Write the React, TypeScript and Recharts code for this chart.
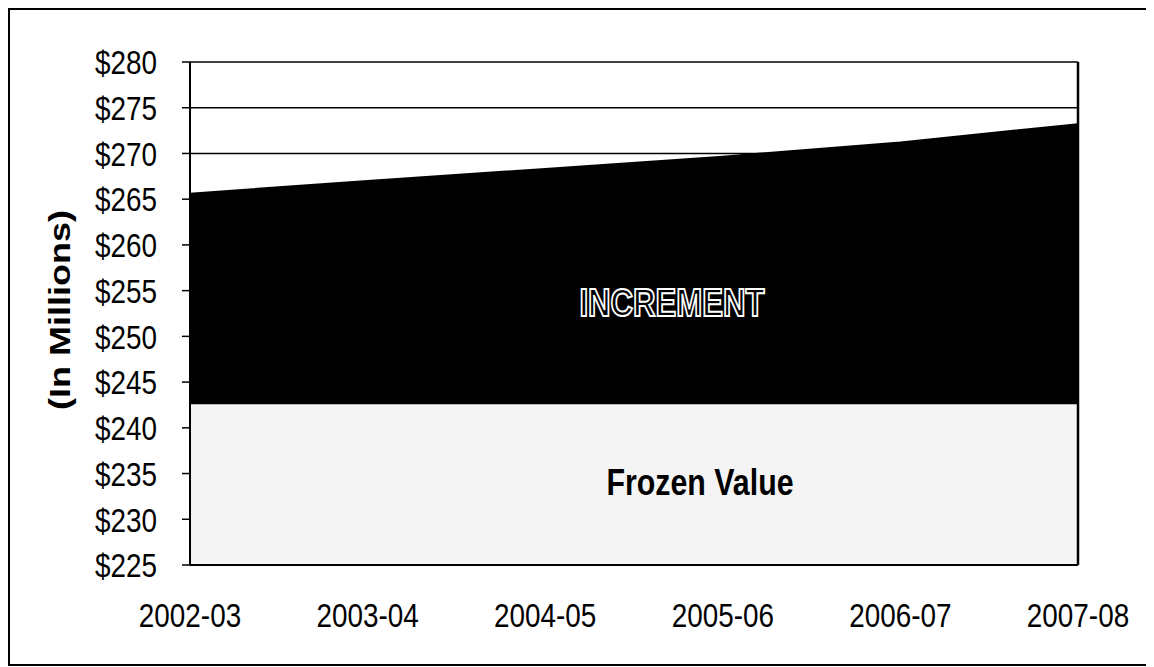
import { Area, AreaChart, CartesianGrid, XAxis, YAxis } from 'recharts';

const years = ['2002-03', '2003-04', '2004-05', '2005-06', '2006-07', '2007-08'];
const frozenValue = [242.7, 242.7, 242.7, 242.7, 242.7, 242.7];
const increment = [22.9, 24.3, 25.6, 26.95, 28.5, 30.5];
const yTicks = [225, 230, 235, 240, 245, 250, 255, 260, 265, 270, 275, 280];

const FONT = '"Liberation Sans", Arial, sans-serif';
const SQUEEZE = 0.82;

const chartData = years.map((year, i) => ({
  year,
  frozen: frozenValue[i],
  increment: increment[i],
}));

function YTick({ x, y, payload }: any) {
  return (
    <text
      transform={`translate(${x},${y}) scale(${SQUEEZE},1)`}
      textAnchor="end"
      dy="0.36em"
      fontSize={34}
      fontFamily={FONT}
      fill="#000"
    >
      ${payload.value}
    </text>
  );
}

function XTick({ x, y, payload }: any) {
  return (
    <text
      transform={`translate(${x},${y + 62}) scale(${SQUEEZE},1)`}
      textAnchor="middle"
      fontSize={34}
      fontFamily={FONT}
      fill="#000"
    >
      {payload.value}
    </text>
  );
}

export default function App() {
  return (
    <div
      style={{
        position: 'relative',
        width: 1146,
        height: 658,
        border: '2px solid #000',
        boxSizing: 'border-box',
        background: '#fff',
      }}
    >
      <AreaChart
        width={1142}
        height={654}
        data={chartData}
        margin={{ top: 52, right: 73, left: 80, bottom: 39 }}
      >
        <CartesianGrid horizontal vertical={false} stroke="#000" strokeWidth={1.5} />
        <XAxis
          dataKey="year"
          axisLine={{ stroke: '#000', strokeWidth: 2 }}
          tickLine={false}
          tickSize={0}
          tickMargin={0}
          height={60}
          tick={<XTick />}
          interval={0}
        />
        <YAxis
          domain={[225, 280]}
          ticks={yTicks}
          allowDataOverflow
          width={100}
          axisLine={{ stroke: '#000', strokeWidth: 2 }}
          tickLine={{ stroke: '#000', strokeWidth: 1.5 }}
          tickSize={8}
          tickMargin={25}
          tick={<YTick />}
          interval={0}
        />
        <YAxis
          yAxisId="r"
          orientation="right"
          domain={[225, 280]}
          allowDataOverflow
          width={1}
          tick={false}
          tickLine={false}
          axisLine={{ stroke: '#000', strokeWidth: 2.5 }}
        />
        <Area
          type="linear"
          dataKey="frozen"
          stackId="a"
          fill="#f4f4f4"
          fillOpacity={1}
          stroke="#000"
          strokeWidth={2}
          dot={false}
          activeDot={false}
          isAnimationActive={false}
        />
        <Area
          type="linear"
          dataKey="increment"
          stackId="a"
          fill="#000"
          fillOpacity={1}
          stroke="#000"
          strokeWidth={2}
          dot={false}
          activeDot={false}
          isAnimationActive={false}
        />
      </AreaChart>
      <svg
        width={1142}
        height={654}
        style={{ position: 'absolute', left: 0, top: 0, pointerEvents: 'none' }}
      >
        <text
          transform="translate(60,300) rotate(-90) scale(1.2,1)"
          textAnchor="middle"
          fontSize={30}
          fontWeight="bold"
          fontFamily={FONT}
          fill="#000"
        >
          (In Millions)
        </text>
        <text
          transform={`translate(662,306) scale(${SQUEEZE},1)`}
          textAnchor="middle"
          fontSize={38}
          fontWeight="bold"
          fontFamily={FONT}
          fill="#000"
          stroke="#fff"
          strokeWidth={2}
        >
          INCREMENT
        </text>
        <text
          transform={`translate(690,485) scale(${SQUEEZE},1)`}
          textAnchor="middle"
          fontSize={37}
          fontWeight="bold"
          fontFamily={FONT}
          fill="#000"
        >
          Frozen Value
        </text>
      </svg>
    </div>
  );
}
